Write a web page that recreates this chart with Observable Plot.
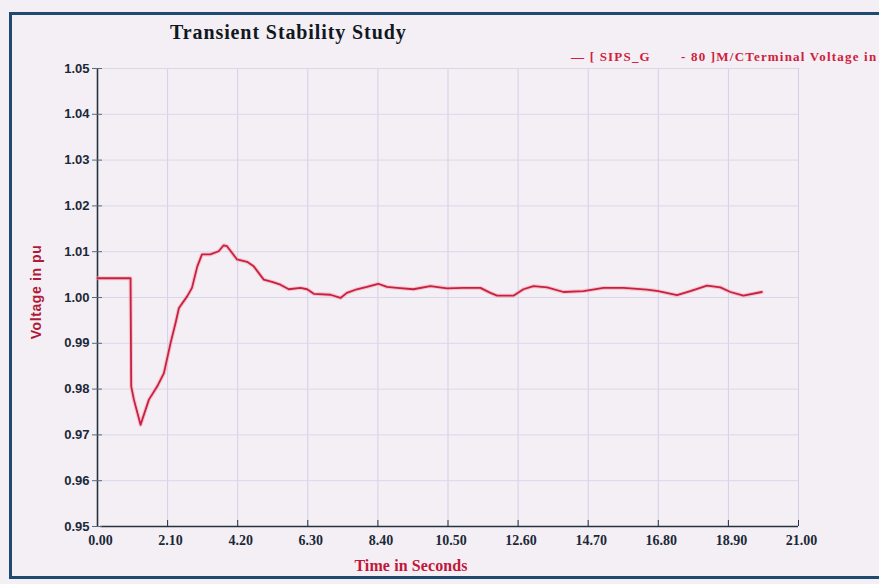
<!DOCTYPE html>
<html>
<head>
<meta charset="utf-8">
<script src="https://cdn.jsdelivr.net/npm/d3@7"></script>
<script src="https://cdn.jsdelivr.net/npm/@observablehq/plot@0.6"></script>
<style>
  html, body { margin: 0; padding: 0; background: #f4eff5; overflow: hidden; }
  #wrap { position: relative; width: 879px; height: 584px; overflow: hidden; background: #f4eff5; }
  .fr { position: absolute; background: #1d4a6e; }
  #title { position: absolute; left: 170px; top: 21px; font-family: "Liberation Serif", serif; font-weight: bold; font-size: 20px; letter-spacing: 0.9px; color: #101820; }
  .leg { position: absolute; top: 49px; white-space: nowrap; font-family: "Liberation Serif", serif; font-weight: bold; font-size: 13px; letter-spacing: 1.2px; color: #d0203c; }
  #ylab { position: absolute; left: 36px; top: 292px; transform: translate(-50%, -50%) rotate(-90deg); white-space: nowrap; font-family: "Liberation Sans", sans-serif; font-weight: bold; font-size: 14px; letter-spacing: 0.6px; color: #b01838; }
  #xlab { position: absolute; left: 411px; top: 557px; transform: translateX(-50%); white-space: nowrap; font-family: "Liberation Serif", serif; font-weight: bold; font-size: 16px; letter-spacing: 0.1px; color: #c0183a; }
  #chart { position: absolute; left: 0; top: 0; }
</style>
</head>
<body>
<div id="wrap">
  <div id="chart"></div>
  <div class="fr" style="left:9px; top:12px; width:870px; height:3px"></div>
  <div class="fr" style="left:9px; top:12px; width:3px; height:567px"></div>
  <div class="fr" style="left:9px; top:576px; width:870px; height:3px"></div>
  <div id="title">Transient Stability Study</div>
  <div class="leg" style="left:571px">— [ SIPS_G</div>
  <div class="leg" style="left:681px">- 80 ]M/CTerminal Voltage in</div>
  <div id="ylab">Voltage in pu</div>
  <div id="xlab">Time in Seconds</div>
</div>
<script>
const timeS = [0, 0.99, 1.01, 1.09, 1.29, 1.54, 1.79, 1.99, 2.19, 2.34, 2.44, 2.69, 2.83, 2.99, 3.13, 3.38, 3.63, 3.78, 3.88, 4.18, 4.48, 4.68, 4.98, 5.23, 5.48, 5.73, 6.08, 6.28, 6.48, 6.98, 7.28, 7.47, 7.77, 8.07, 8.41, 8.67, 8.97, 9.46, 9.97, 10.47, 10.97, 11.47, 11.77, 11.97, 12.46, 12.76, 13.06, 13.47, 13.96, 14.56, 15.16, 15.76, 16.46, 16.8, 17.36, 17.76, 18.26, 18.66, 18.96, 19.35, 19.9];
const voltagePu = [1.0042, 1.0042, 0.9806, 0.9777, 0.9722, 0.9777, 0.9806, 0.9835, 0.9901, 0.9945, 0.9977, 1.0003, 1.0021, 1.0068, 1.0094, 1.0094, 1.0101, 1.0114, 1.0112, 1.0083, 1.0078, 1.0068, 1.0039, 1.0034, 1.0028, 1.0018, 1.0021, 1.0018, 1.0008, 1.0006, 0.9999, 1.0010, 1.0018, 1.0023, 1.0030, 1.0023, 1.0021, 1.0018, 1.0025, 1.0020, 1.0021, 1.0021, 1.0010, 1.0004, 1.0004, 1.0018, 1.0025, 1.0022, 1.0012, 1.0014, 1.0021, 1.0021, 1.0017, 1.0014, 1.0005, 1.0014, 1.0026, 1.0022, 1.0012, 1.0004, 1.0012];
const xTicks = [0, 2.1, 4.2, 6.3, 8.4, 10.5, 12.6, 14.7, 16.8, 18.9, 21];
const yTicks = [0.95, 0.96, 0.97, 0.98, 0.99, 1.00, 1.01, 1.02, 1.03, 1.04, 1.05];

const data = timeS.map((t, i) => ({t, v: voltagePu[i]}));
const axisColor = "#26323f";

const chart = Plot.plot({
  width: 879,
  height: 584,
  marginLeft: 97,
  marginRight: 81,
  marginTop: 68,
  marginBottom: 58,
  style: {background: "transparent", fontSize: "12px", color: axisColor, overflow: "visible"},
  x: {domain: [0, 21]},
  y: {domain: [0.95, 1.05]},
  marks: [
    Plot.gridX(xTicks.slice(1), {stroke: "#d2cfe8", strokeOpacity: 1, strokeWidth: 1}),
    Plot.gridY(yTicks.slice(1), {stroke: "#dad7ea", strokeOpacity: 1, strokeWidth: 1}),
    Plot.ruleX([0], {stroke: axisColor, strokeWidth: 1.6}),
    Plot.ruleY([0.95], {x1: 0.1, x2: 21, stroke: axisColor, strokeWidth: 1.6}),
    Plot.axisX(xTicks, {anchor: "bottom", tickSize: 6, dy: -6, text: null, stroke: axisColor, label: null}),
    Plot.axisX(xTicks, {anchor: "bottom", tickSize: 0, tickPadding: 9, dx: 3, tickFormat: d3.format(".2f"), fill: "#1b2838", label: null,
      fontFamily: "Liberation Serif, serif", fontWeight: "bold", fontSize: 14}),
    Plot.axisY(yTicks, {anchor: "left", tickSize: 10, dx: 5, text: null, stroke: "#5a6a7a", label: null}),
    Plot.axisY(yTicks, {anchor: "left", tickSize: 0, tickPadding: 8, tickFormat: d3.format(".2f"), fill: "#1b2838", label: null,
      fontFamily: "Liberation Sans, sans-serif", fontWeight: "bold", fontSize: 13}),
    Plot.line(data, {x: "t", y: "v", stroke: "#f2a9b8", strokeWidth: 4, strokeOpacity: 0.6}),
    Plot.line(data, {x: "t", y: "v", stroke: "#c8203f", strokeWidth: 1.8})
  ]
});
document.getElementById("chart").appendChild(chart);
</script>
</body>
</html>
